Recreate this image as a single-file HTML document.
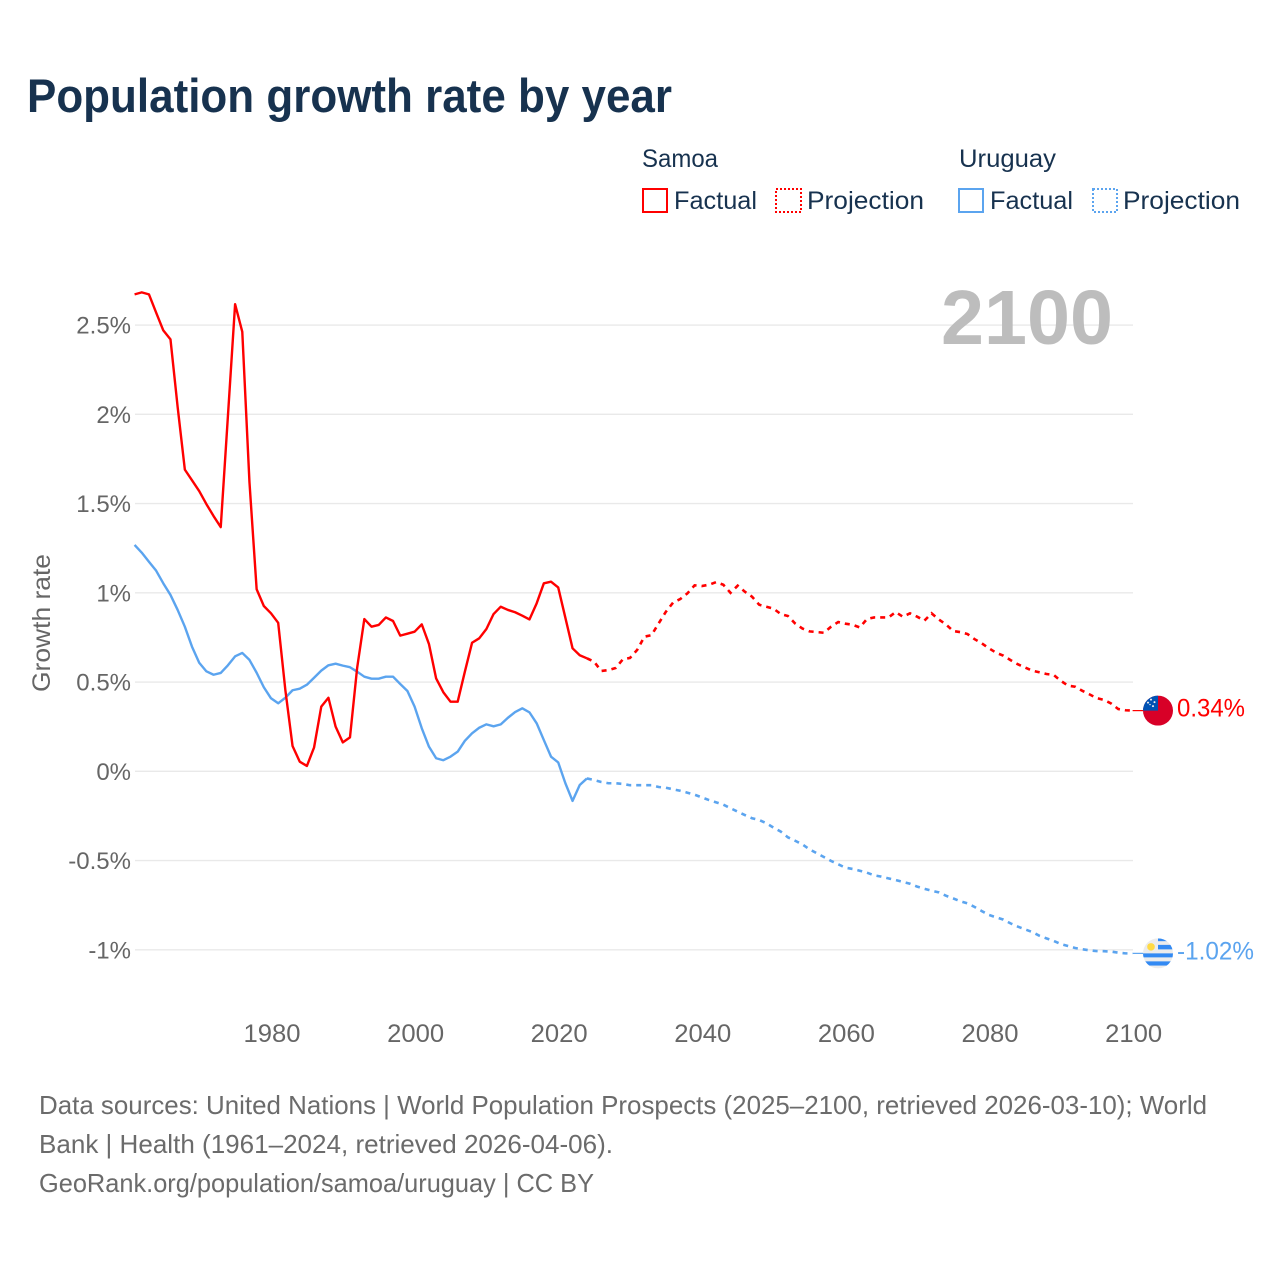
<!DOCTYPE html>
<html lang="en">
<head>
<meta charset="utf-8">
<title>Population growth rate by year</title>
<style>
html,body{margin:0;padding:0;background:#fff;width:1280px;height:1280px;overflow:hidden}
svg{display:block}
text{font-family:"Liberation Sans",sans-serif}
</style>
</head>
<body>
<svg id="chart" xmlns="http://www.w3.org/2000/svg" width="1280" height="1280" viewBox="0 0 1280 1280">
  <rect x="0" y="0" width="1280" height="1280" fill="#fff"/>
  <text x="27" y="112" font-size="47" font-weight="700" fill="#17324f" textLength="645" lengthAdjust="spacingAndGlyphs">Population growth rate by year</text>

  <g font-size="25" fill="#17324f">
    <text x="642" y="167" textLength="76" lengthAdjust="spacingAndGlyphs">Samoa</text>
    <rect x="643" y="189" width="24" height="23" fill="none" stroke="#ff0000" stroke-width="2"/>
    <text x="674" y="209" textLength="83" lengthAdjust="spacingAndGlyphs">Factual</text>
    <rect x="776" y="189" width="25" height="23" fill="none" stroke="#ff0000" stroke-width="2" stroke-dasharray="2 2"/>
    <text x="807" y="209" textLength="117" lengthAdjust="spacingAndGlyphs">Projection</text>
    <text x="959" y="167" textLength="97" lengthAdjust="spacingAndGlyphs">Uruguay</text>
    <rect x="959" y="189" width="24" height="23" fill="none" stroke="#5ba4ef" stroke-width="2"/>
    <text x="990" y="209" textLength="83" lengthAdjust="spacingAndGlyphs">Factual</text>
    <rect x="1093" y="189" width="24" height="23" fill="none" stroke="#5ba4ef" stroke-width="2" stroke-dasharray="2 2"/>
    <text x="1123" y="209" textLength="117" lengthAdjust="spacingAndGlyphs">Projection</text>
  </g>

  <g id="grid"></g>
  <g id="yLabels"></g>
  <g id="xLabels"></g>

  <text x="941" y="344" font-size="77" font-weight="700" fill="#bdbdbd" textLength="172" lengthAdjust="spacingAndGlyphs">2100</text>
  <text transform="translate(50,623) rotate(-90)" text-anchor="middle" font-size="25" fill="#666" textLength="138" lengthAdjust="spacingAndGlyphs">Growth rate</text>

  <g id="series"></g>

  <defs>
    <clipPath id="flagClip"><circle cx="0" cy="0" r="15"/></clipPath>
  </defs>
  <g id="flagSamoa">
    <g clip-path="url(#flagClip)">
      <rect x="-15" y="-15" width="30" height="30" fill="#d80027"/>
      <rect x="-15" y="-15" width="15" height="15" fill="#0052b4"/>
      <g fill="#f0f0f0">
        <circle cx="-7" cy="-11" r="1"/><circle cx="-3.5" cy="-8.5" r="1"/><circle cx="-10" cy="-8" r="1"/><circle cx="-5" cy="-4.5" r="1"/><circle cx="-8" cy="-6" r=".7"/>
      </g>
    </g>
  </g>
  <g id="flagUruguay">
    <g clip-path="url(#flagClip)">
      <rect x="-15" y="-15" width="30" height="30" fill="#ececec"/>
      <rect x="0" y="-15" width="15" height="2.8" fill="#338af3"/>
      <rect x="0" y="-8.5" width="15" height="4.5" fill="#338af3"/>
      <rect x="-15" y="0" width="30" height="4" fill="#338af3"/>
      <rect x="-15" y="8" width="30" height="4.2" fill="#338af3"/>
      <circle cx="-7" cy="-6.5" r="3.8" fill="#ffda44"/>
    </g>
  </g>
  <g id="endLabels"></g>

  <g font-size="26" fill="#6b6b6b">
    <text x="39" y="1114" textLength="1168" lengthAdjust="spacingAndGlyphs">Data sources: United Nations | World Population Prospects (2025–2100, retrieved 2026-03-10); World</text>
    <text x="39" y="1153" textLength="574" lengthAdjust="spacingAndGlyphs">Bank | Health (1961–2024, retrieved 2026-04-06).</text>
    <text x="39" y="1192" textLength="555" lengthAdjust="spacingAndGlyphs">GeoRank.org/population/samoa/uruguay | CC BY</text>
  </g>
</svg>

<script>
var factualStartYear = 1961;
var projectionStartYear = 2024;

var samoaFactual = [2.672,2.683,2.672,2.57,2.47,2.42,2.04,1.69,1.63,1.57,1.497,1.43,1.368,1.99,2.617,2.462,1.62,1.02,0.926,0.885,0.832,0.455,0.142,0.054,0.03,0.134,0.362,0.412,0.25,0.162,0.19,0.58,0.853,0.81,0.82,0.862,0.842,0.76,0.771,0.782,0.823,0.713,0.52,0.443,0.39,0.39,0.558,0.72,0.745,0.797,0.881,0.922,0.904,0.891,0.872,0.851,0.941,1.053,1.062,1.03,0.86,0.689,0.65,0.633];

var samoaProjection = [0.633,0.614,0.562,0.567,0.579,0.627,0.635,0.68,0.754,0.763,0.829,0.894,0.945,0.965,0.997,1.042,1.038,1.045,1.06,1.045,1.0,1.04,1.006,0.978,0.933,0.922,0.911,0.881,0.87,0.828,0.8,0.784,0.78,0.776,0.81,0.836,0.827,0.821,0.806,0.853,0.862,0.862,0.862,0.892,0.866,0.885,0.866,0.844,0.885,0.851,0.823,0.786,0.78,0.769,0.74,0.717,0.689,0.664,0.648,0.623,0.6,0.582,0.564,0.555,0.545,0.54,0.507,0.48,0.474,0.451,0.431,0.41,0.4,0.38,0.349,0.342,0.34];

var uruguayFactual = [1.268,1.225,1.174,1.124,1.053,0.988,0.904,0.81,0.698,0.608,0.56,0.541,0.551,0.594,0.644,0.663,0.624,0.552,0.471,0.409,0.381,0.412,0.454,0.463,0.485,0.524,0.564,0.594,0.603,0.592,0.583,0.558,0.53,0.519,0.519,0.53,0.53,0.489,0.45,0.362,0.241,0.138,0.073,0.062,0.082,0.11,0.171,0.213,0.244,0.263,0.252,0.263,0.3,0.332,0.353,0.33,0.269,0.175,0.082,0.05,-0.067,-0.166,-0.077,-0.04];

var uruguayProjection = [-0.04,-0.049,-0.06,-0.067,-0.067,-0.071,-0.078,-0.078,-0.078,-0.078,-0.088,-0.092,-0.101,-0.109,-0.12,-0.131,-0.146,-0.161,-0.174,-0.187,-0.207,-0.226,-0.245,-0.263,-0.273,-0.291,-0.316,-0.338,-0.37,-0.389,-0.409,-0.437,-0.459,-0.48,-0.502,-0.521,-0.54,-0.547,-0.557,-0.568,-0.583,-0.59,-0.6,-0.609,-0.62,-0.63,-0.646,-0.658,-0.669,-0.678,-0.697,-0.712,-0.728,-0.74,-0.76,-0.783,-0.805,-0.818,-0.831,-0.852,-0.87,-0.885,-0.9,-0.921,-0.936,-0.95,-0.968,-0.979,-0.99,-0.997,-1.003,-1.007,-1.008,-1.01,-1.016,-1.02,-1.02];

var yTicks = [2.5,2,1.5,1,0.5,0,-0.5,-1];
var yTickLabels = ["2.5%","2%","1.5%","1%","0.5%","0%","-0.5%","-1%"];
var xTicks = [1980,2000,2020,2040,2060,2080,2100];
var endLabelSamoa = "0.34%";
var endLabelUruguay = "-1.02%";

var NS = "http://www.w3.org/2000/svg";
function xScale(year){ return 271 + (year - 1980) * 7.18; }
function yScale(v){ return 771.3 - v * 178.5; }
function make(tag, attrs, parent){
  var el = document.createElementNS(NS, tag);
  for (var k in attrs) el.setAttribute(k, attrs[k]);
  parent.appendChild(el);
  return el;
}
function linePath(values, startYear){
  var d = "";
  for (var i = 0; i < values.length; i++){
    d += (i ? "L" : "M") + xScale(startYear + i).toFixed(2) + " " + yScale(values[i]).toFixed(2);
  }
  return d;
}

var grid = document.getElementById("grid");
var yLabels = document.getElementById("yLabels");
yTicks.forEach(function(t, i){
  var ln = make("line", {x1:135, x2:1133, y1:yScale(t), y2:yScale(t), stroke:"#e9e9e9", "stroke-width":1.3}, grid);
  
  
  var tx = make("text", {x:131, y:yScale(t)+8.5, "text-anchor":"end", "font-size":24, fill:"#666"}, yLabels);
  
  
  tx.textContent = yTickLabels[i];
});

var xLabels = document.getElementById("xLabels");
xTicks.forEach(function(t){
  var tx = make("text", {x:xScale(t)+1, y:1042, "text-anchor":"middle", "font-size":25, fill:"#666", textLength:57, lengthAdjust:"spacingAndGlyphs"}, xLabels);
  
  
  tx.textContent = String(t);
});

var seriesG = document.getElementById("series");
var RED = "#ff0000", BLUE = "#5ba4ef";

var p1 = make("path", {d:linePath(uruguayFactual, factualStartYear), fill:"none", stroke:BLUE, "stroke-width":2.4, "stroke-linejoin":"round"}, seriesG);


var p2 = make("path", {d:linePath(uruguayProjection, projectionStartYear), fill:"none", stroke:BLUE, "stroke-width":2.6, "stroke-dasharray":"5 5"}, seriesG);


var p3 = make("path", {d:linePath(samoaFactual, factualStartYear), fill:"none", stroke:RED, "stroke-width":2.4, "stroke-linejoin":"round"}, seriesG);


var p4 = make("path", {d:linePath(samoaProjection, projectionStartYear), fill:"none", stroke:RED, "stroke-width":2.6, "stroke-dasharray":"5 5"}, seriesG);



var lastYear = projectionStartYear + samoaProjection.length - 1;
var flagX = 1158;
var samoaEnd = yScale(samoaProjection[samoaProjection.length - 1]);
var uruguayEnd = yScale(uruguayProjection[uruguayProjection.length - 1]);

var c1 = make("line", {x1:xScale(lastYear), x2:flagX - 15, y1:samoaEnd, y2:samoaEnd, stroke:RED, "stroke-width":1.2}, seriesG);


var c2 = make("line", {x1:xScale(lastYear), x2:flagX - 15, y1:uruguayEnd, y2:uruguayEnd, stroke:BLUE, "stroke-width":1.2}, seriesG);



document.getElementById("flagSamoa").setAttribute("transform", "translate(" + flagX + "," + samoaEnd + ")");
document.getElementById("flagUruguay").setAttribute("transform", "translate(" + flagX + "," + uruguayEnd + ")");

var endG = document.getElementById("endLabels");
var e1 = make("text", {x:1177, y:samoaEnd + 6, "font-size":25, fill:RED, textLength:68, lengthAdjust:"spacingAndGlyphs"}, endG);


e1.textContent = endLabelSamoa;
var e2 = make("text", {x:1177, y:uruguayEnd + 6, "font-size":25, fill:BLUE, textLength:77, lengthAdjust:"spacingAndGlyphs"}, endG);


e2.textContent = endLabelUruguay;
</script>
</body>
</html>
